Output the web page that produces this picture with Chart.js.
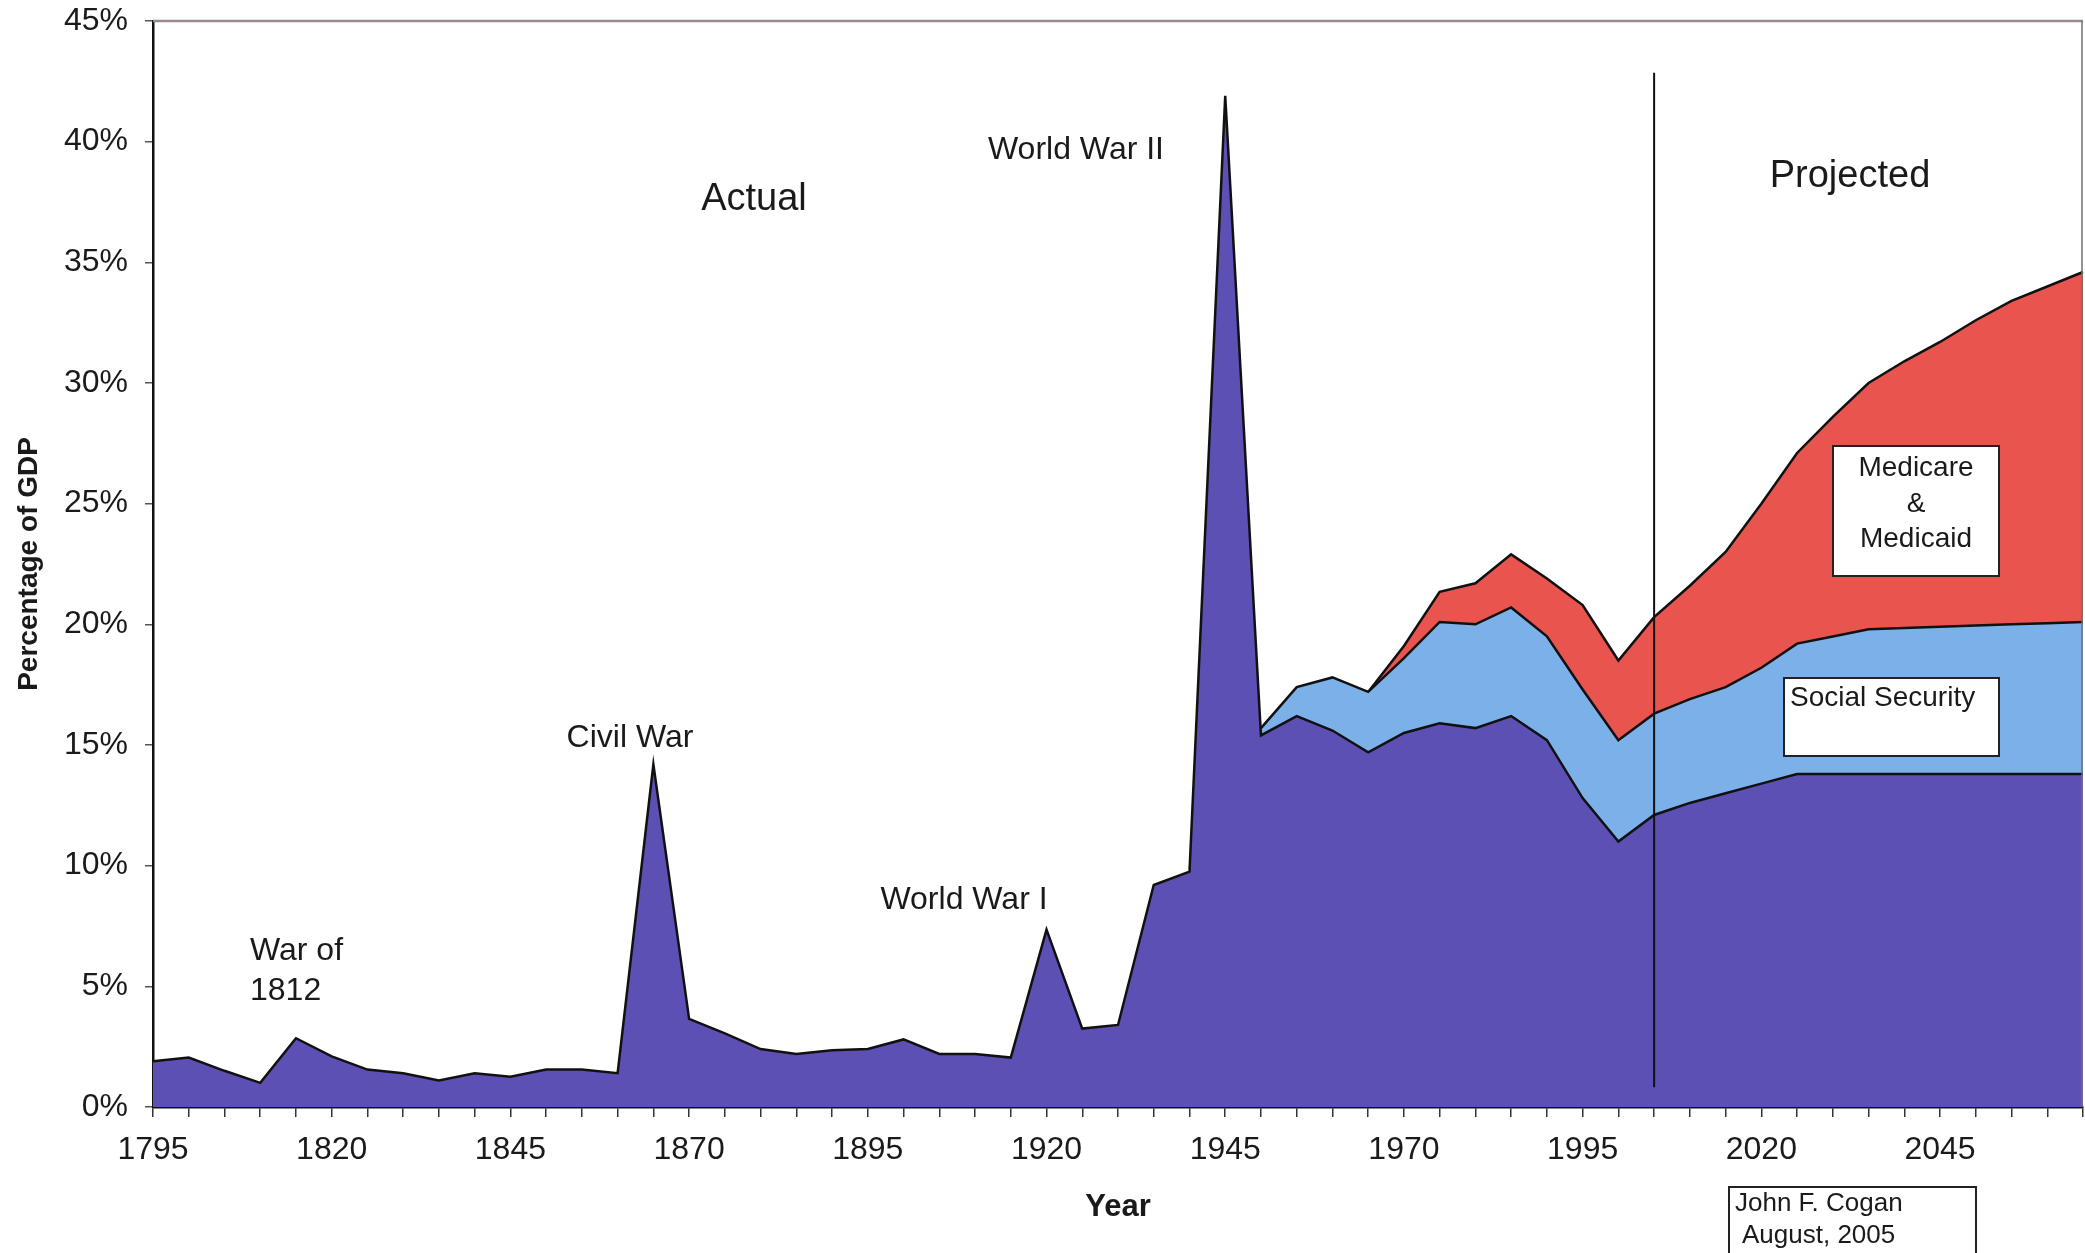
<!DOCTYPE html>
<html>
<head>
<meta charset="utf-8">
<script src="https://cdn.jsdelivr.net/npm/chart.js@4.4.1/dist/chart.umd.min.js"></script>
<style>
html,body{margin:0;padding:0;background:#ffffff;}
canvas{display:block;}
</style>
</head>
<body>
<canvas id="c" width="2085" height="1253"></canvas>
<script>
// ---- Data (percent of GDP) ----
const years = [1795,1800,1805,1810,1815,1820,1825,1830,1835,1840,1845,1850,1855,1860,1865,1870,1875,1880,1885,1890,1895,1900,1905,1910,1915,1920,1925,1930,1935,1940,1945,1950,1955,1960,1965,1970,1975,1980,1985,1990,1995,2000,2005,2010,2015,2020,2025,2030,2035,2040,2045,2050,2055,2060,2065];

const otherSpending = [1.9,2.05,1.5,1.0,2.85,2.1,1.55,1.4,1.1,1.4,1.25,1.55,1.55,1.4,14.2,3.65,3.05,2.4,2.2,2.35,2.4,2.8,2.2,2.2,2.05,7.35,3.25,3.4,9.2,9.75,41.9,15.4,16.2,15.6,14.7,15.5,15.9,15.7,16.2,15.2,12.8,11.0,12.1,12.6,13.0,13.4,13.8,13.8,13.8,13.8,13.8,13.8,13.8,13.8,13.8];

const socialSecurity = [null,null,null,null,null,null,null,null,null,null,null,null,null,null,null,null,null,null,null,null,null,null,null,null,null,null,null,null,null,null,null,0.3,1.2,2.2,2.5,3.1,4.2,4.3,4.5,4.3,4.5,4.2,4.2,4.3,4.4,4.8,5.4,5.7,6.0,6.05,6.1,6.15,6.2,6.25,6.3];

const medicareMedicaid = [null,null,null,null,null,null,null,null,null,null,null,null,null,null,null,null,null,null,null,null,null,null,null,null,null,null,null,null,null,null,null,null,null,null,0,0.5,1.25,1.7,2.2,2.4,3.5,3.3,4.0,4.7,5.6,6.8,7.9,9.1,10.2,11.05,11.8,12.65,13.4,13.95,14.5];

const xTickLabels = [1795,1820,1845,1870,1895,1920,1945,1970,1995,2020,2045];
const dividerYear = 2005;
const dividerRange = [0.82, 42.86];

const FONT = "'Liberation Sans', Arial, Helvetica, sans-serif";
Chart.defaults.font.family = FONT;
Chart.defaults.color = '#1a1a1a';

const decorPlugin = {
  id: 'decor',
  afterDatasetsDraw(chart) {
    const {ctx, chartArea, scales} = chart;
    const x = scales.x, y = scales.y;
    ctx.save();
    // top & right frame
    ctx.strokeStyle = '#9a8890';
    ctx.lineWidth = 2.5;
    ctx.beginPath();
    ctx.moveTo(chartArea.left, chartArea.top);
    ctx.lineTo(chartArea.right, chartArea.top);
    ctx.stroke();
    ctx.strokeStyle = '#707070';
    ctx.lineWidth = 1.5;
    ctx.beginPath();
    ctx.moveTo(chartArea.right - 1, chartArea.top);
    ctx.lineTo(chartArea.right - 1, chartArea.bottom);
    ctx.stroke();
    // divider line Actual / Projected
    const xi = years.indexOf(dividerYear);
    const px = x.getPixelForValue(xi);
    ctx.strokeStyle = '#111';
    ctx.lineWidth = 2;
    ctx.beginPath();
    ctx.moveTo(px, y.getPixelForValue(dividerRange[1]));
    ctx.lineTo(px, y.getPixelForValue(dividerRange[0]));
    ctx.stroke();
    ctx.restore();
  },
  afterDraw(chart) {
    const {ctx} = chart;
    ctx.save();
    ctx.fillStyle = '#1a1a1a';
    ctx.textBaseline = 'middle';
    function txt(s, x, y, size, align) {
      ctx.font = size + 'px ' + FONT;
      ctx.textAlign = align || 'center';
      ctx.fillText(s, x, y);
    }
    txt('World War II', 1076, 150, 32);
    txt('Actual', 754, 200, 38);
    txt('Projected', 1850, 177, 38);
    txt('Civil War', 630, 738, 32);
    txt('World War I', 964, 900, 32);
    txt('War of', 250, 951, 32, 'left');
    txt('1812', 250, 991, 32, 'left');

    function box(x0, y0, w, h) {
      ctx.fillStyle = '#ffffff';
      ctx.fillRect(x0, y0, w, h);
      ctx.strokeStyle = '#222';
      ctx.lineWidth = 2;
      ctx.strokeRect(x0, y0, w, h);
      ctx.fillStyle = '#1a1a1a';
    }
    box(1833, 446, 166, 130);
    txt('Medicare', 1916, 468, 28);
    txt('&', 1916, 504, 28);
    txt('Medicaid', 1916, 539, 28);

    box(1784, 678, 215, 78);
    txt('Social Security', 1790, 698, 28, 'left');

    box(1729, 1187, 247, 70);
    txt('John F. Cogan', 1735, 1204, 26, 'left');
    txt('August, 2005', 1742, 1236, 26, 'left');
    ctx.restore();
  }
};

const lineBase = {
  borderColor: '#111111',
  borderWidth: 2.5,
  pointRadius: 0,
  tension: 0,
  spanGaps: false
};

new Chart(document.getElementById('c'), {
  type: 'line',
  data: {
    labels: years,
    datasets: [
      Object.assign({}, lineBase, {label: 'Other spending', data: otherSpending, backgroundColor: '#5c50b5', fill: 'origin'}),
      Object.assign({}, lineBase, {label: 'Social Security', data: socialSecurity, backgroundColor: '#7bb0e8', fill: '-1'}),
      Object.assign({}, lineBase, {label: 'Medicare & Medicaid', data: medicareMedicaid, backgroundColor: '#e9544f', fill: '-1'})
    ]
  },
  options: {
    responsive: false,
    animation: false,
    devicePixelRatio: 1,
    layout: {padding: {top: 21, right: 2, left: 0, bottom: 0}},
    plugins: {legend: {display: false}, tooltip: {enabled: false}, title: {display: false}},
    scales: {
      x: {
        type: 'category',
        offset: false,
        border: {display: true, color: '#111', width: 2.5},
        grid: {display: true, drawOnChartArea: false, drawTicks: true, tickLength: 10, color: '#333', lineWidth: 1.5},
        ticks: {
          autoSkip: false, maxRotation: 0, minRotation: 0, padding: 14,
          font: {size: 32}, color: '#1a1a1a',
          callback: function(v, i) { const yr = years[i]; return xTickLabels.includes(yr) ? String(yr) : ''; }
        },
        title: {display: true, text: 'Year', font: {size: 31, weight: 'bold'}, color: '#1a1a1a', padding: {top: 0, bottom: 27}},
        afterFit(scale) { scale.height = 146; scale.paddingLeft = 0; scale.paddingRight = 0; }
      },
      y: {
        stacked: true,
        min: 0, max: 45,
        border: {display: true, color: '#111', width: 2.5},
        grid: {display: true, drawOnChartArea: false, drawTicks: true, tickLength: 8, color: '#555', lineWidth: 1.5},
        ticks: {stepSize: 5, padding: 17, font: {size: 32}, color: '#1a1a1a', callback: v => v + '%'},
        title: {display: true, text: 'Percentage of GDP', font: {size: 28, weight: 'bold'}, color: '#1a1a1a', padding: {top: 12, bottom: 0}},
        afterFit(scale) { scale.width = 153; scale.paddingTop = 0; scale.paddingBottom = 0; }
      }
    }
  },
  plugins: [decorPlugin]
});
</script>
</body>
</html>
